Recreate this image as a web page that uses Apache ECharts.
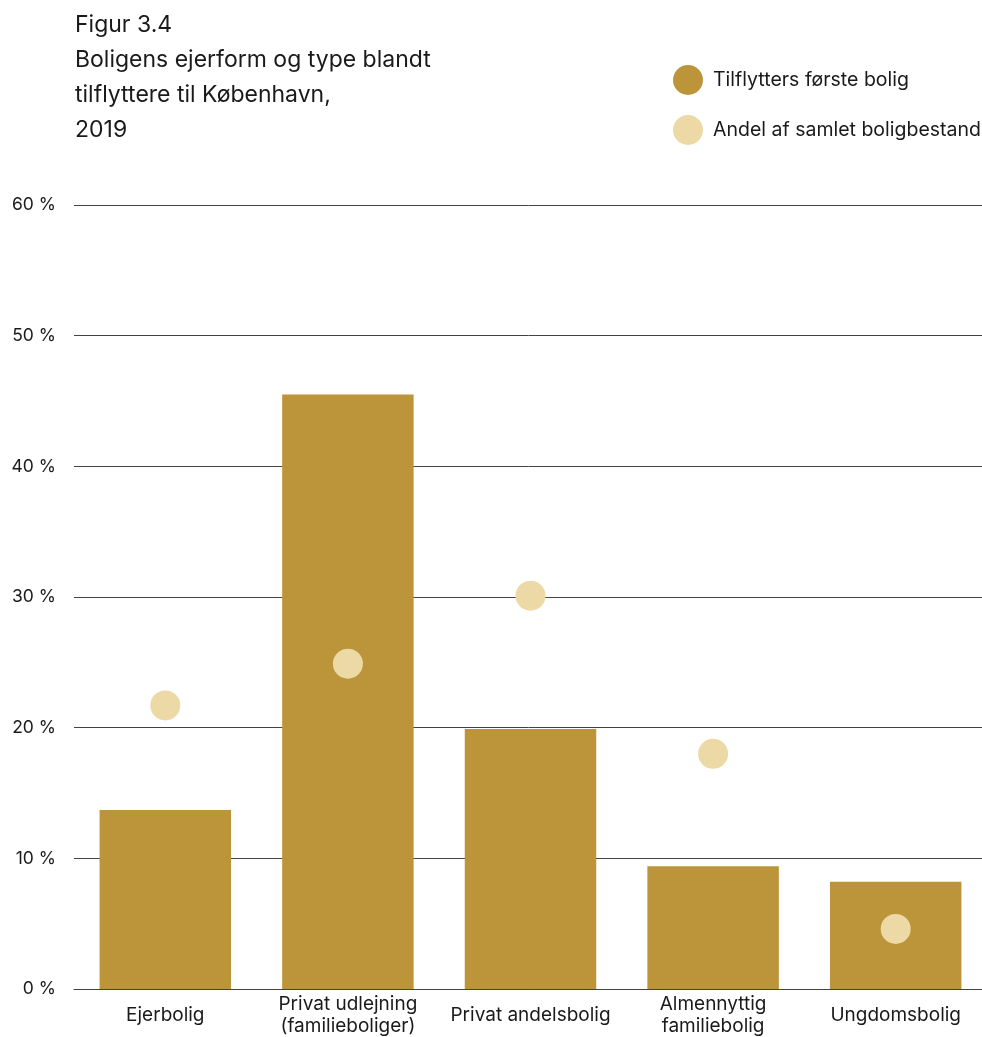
<!DOCTYPE html>
<html>
<head>
<meta charset="utf-8">
<script src="https://cdn.jsdelivr.net/npm/echarts@6/dist/echarts.min.js"></script>
<style>html,body{margin:0;padding:0;background:#fff}#c{width:982px;height:1037px}</style>
</head>
<body>
<div id="c"></div>
<script>
const categories = ['Ejerbolig', 'Privat udlejning\n(familieboliger)', 'Privat andelsbolig', 'Almennyttig\nfamiliebolig', 'Ungdomsbolig'];
const firstHome = [13.7, 45.5, 19.9, 9.4, 8.2];
const stockShare = [21.7, 24.9, 30.1, 18.0, 4.6];
const seriesNames = ['Tilflytters første bolig', 'Andel af samlet boligbestand'];
const titleText = 'Figur 3.4\nBoligens ejerform og type blandt\ntilflyttere til København,\n2019';

const chart = echarts.init(document.getElementById('c'));
const font = 'Inter, "Noto Sans", sans-serif';
chart.setOption({
  backgroundColor: '#ffffff',
  animation: false,
  textStyle: { fontFamily: font, color: '#1a1a1a' },
  title: {
    text: titleText,
    left: 70, top: 3,
    textStyle: { fontFamily: font, fontSize: 23, fontWeight: 'normal', lineHeight: 35, color: '#1a1a1a' }
  },
  legend: {
    orient: 'vertical', left: 668, top: 60,
    icon: 'circle', itemWidth: 30, itemHeight: 30, itemGap: 20,
    textStyle: { fontFamily: font, fontSize: 19.5, color: '#1a1a1a', padding: [0, 0, 0, 5] },
    data: seriesNames
  },
  grid: { left: 74, width: 913, top: 205, bottom: 48, containLabel: false, outerBoundsMode: 'none' },
  xAxis: {
    type: 'category', data: categories,
    axisLine: { show: true, lineStyle: { color: '#444', width: 1 } },
    axisTick: { show: false },
    axisLabel: { interval: 0, fontFamily: font, fontSize: 19, lineHeight: 22, color: '#1a1a1a', margin: 26, verticalAlign: 'middle' }
  },
  yAxis: {
    type: 'value', min: 0, max: 60, interval: 10,
    axisLine: { show: false }, axisTick: { show: false },
    splitLine: { lineStyle: { color: '#444', width: 1 } },
    axisLabel: { formatter: '{value} %', fontFamily: font, fontSize: 17.5, color: '#1a1a1a', margin: 18 }
  },
  series: [
    { name: seriesNames[0], type: 'bar', data: firstHome, barWidth: '72%', itemStyle: { color: '#BC9439' }, z: 2 },
    { name: seriesNames[1], type: 'scatter', data: stockShare, symbolSize: 30, itemStyle: { color: '#EDD9A6', opacity: 1 }, z: 3 }
  ]
});
</script>
</body>
</html>
